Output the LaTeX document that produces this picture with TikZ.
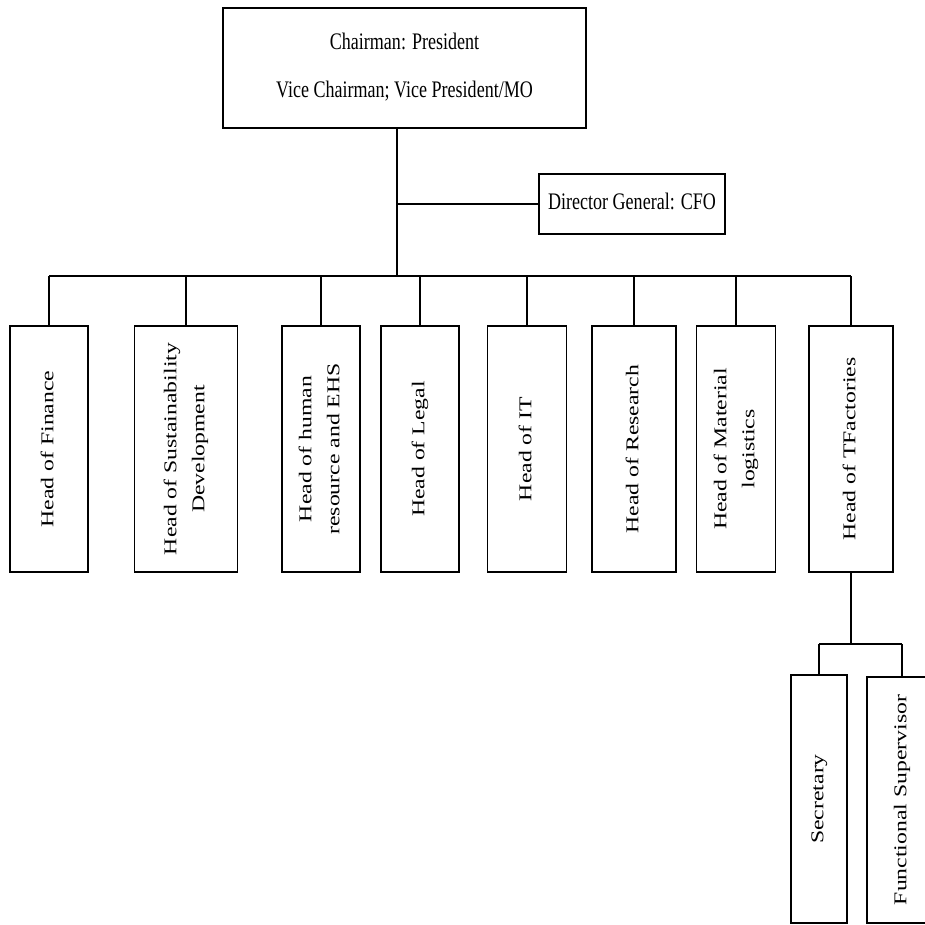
\documentclass[tikz,border=0pt]{standalone}
\usepackage{fontspec}
\setmainfont{Liberation Serif}
\usepackage{graphicx}
\usetikzlibrary{positioning,calc}
\def\pxu{0.506pt}
\newcommand{\horiz}[1]{\scalebox{0.76}[1]{#1}}
\newcommand{\girado}[1]{\rotatebox{90}{\scalebox{1}[0.76]{%
  \begin{tabular}{@{}c@{}}#1\end{tabular}}}}

\begin{document}
\begin{tikzpicture}[
  x=\pxu, y=-\pxu,
  font=\fontsize{12}{14.5}\selectfont,
  cargo/.style={draw, line width=0.8pt, inner sep=0pt, outer sep=0pt},
  enlace/.style={line width=0.8pt},
]
\clip (0,0) rectangle (925,925);
% --- Direccion ------------------------------------------------------------
\node[cargo, minimum width=363*\pxu, minimum height=120*\pxu] (chair)
  at (404.5,68)
  {\raisebox{3.5pt}{\horiz{\begin{tabular}{c}Chairman: President\\[9.8pt]
   Vice Chairman; Vice President/MO\end{tabular}}}};
\node[cargo, minimum width=186*\pxu, minimum height=60*\pxu] (cfo)
  at (632,204) {\raisebox{3pt}{\horiz{Director General: CFO}}};
% --- Jefaturas -------------------------------------------------------------
\foreach \n/\x/\w/\t in {
    fin/49/78/{Head of Finance},
    sus/186/103/{Head of Sustainability\\[4.1pt]Development},
    hr/321/78/{Head of human\\[4.1pt]resource and EHS},
    leg/420/78/{Head of Legal},
    it/527/79/{Head of IT},
    res/634/84/{Head of Research},
    mat/736/79/{Head of Material\\[4.1pt]logistics},
    tf/851/84/{Head of TFactories}} {
  \node[cargo, minimum width=\w*\pxu, minimum height=246*\pxu] (\n)
    at (\x,449) {\girado{\t}};
}
% --- Subordinados de fabricas -------------------------------------------------
\node[cargo, minimum width=56*\pxu, minimum height=248*\pxu] (sec)
  at (819,799) {\girado{Secretary\hspace{33.4pt}}};
\node[cargo, minimum width=70*\pxu, minimum height=246*\pxu] (fun)
  at (902,800) {\girado{Functional Supervisor}};
% --- Lineas ------------------------------------------------------------------
\coordinate (hub) at (397,276);
\coordinate (split) at (851,644);
\draw[enlace] (chair.south -| hub) -- (hub);
\draw[enlace] (cfo.west -| hub) -- (cfo.west);
\draw[enlace] (fin.north |- hub) -- (tf.north |- hub);
\foreach \n in {fin,sus,hr,leg,it,res,mat,tf}
  \draw[enlace] (\n.north |- hub) -- (\n.north);
\draw[enlace] (tf.south) -- (tf.south |- split);
\draw[enlace] (sec.north |- split) -- (fun.north |- split);
\draw[enlace] (sec.north |- split) -- (sec.north);
\draw[enlace] (fun.north |- split) -- (fun.north);
\end{tikzpicture}
\end{document}
